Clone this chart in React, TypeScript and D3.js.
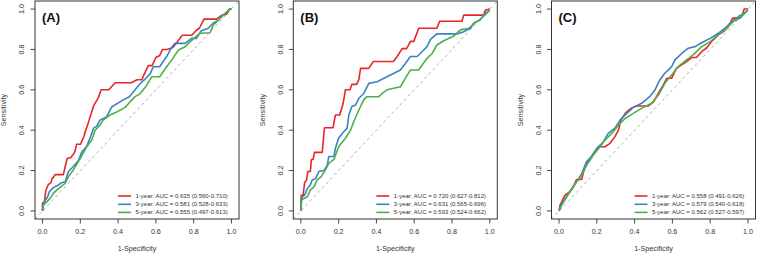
import React, { useEffect } from "react";
import * as d3 from "d3";

// ROC curves: [1-specificity, sensitivity] pairs for each cohort and horizon
const rocA1: [number, number][] = [
  [0, 0], [0, 0.04], [0.01, 0.045], [0.017, 0.1], [0.03, 0.13], [0.045, 0.14], [0.05, 0.16], [0.06, 0.17],
  [0.066, 0.18], [0.11, 0.18], [0.12, 0.22], [0.13, 0.26], [0.15, 0.265], [0.17, 0.29], [0.18, 0.33],
  [0.2, 0.33], [0.22, 0.37], [0.225, 0.39], [0.24, 0.43], [0.25, 0.46], [0.27, 0.52], [0.295, 0.56],
  [0.31, 0.6], [0.35, 0.6], [0.385, 0.635], [0.47, 0.635], [0.5, 0.65], [0.525, 0.65], [0.535, 0.67],
  [0.56, 0.72], [0.58, 0.72], [0.6, 0.76], [0.62, 0.77], [0.635, 0.8], [0.66, 0.8], [0.69, 0.81],
  [0.74, 0.87], [0.79, 0.87], [0.815, 0.895], [0.83, 0.905], [0.855, 0.95], [0.92, 0.95], [0.95, 0.97],
  [0.975, 0.975], [0.99, 1], [1, 1],
];
const rocA3: [number, number][] = [
  [0, 0], [0, 0.02], [0.013, 0.05], [0.027, 0.07], [0.036, 0.095], [0.05, 0.11], [0.066, 0.12],
  [0.084, 0.128], [0.1, 0.14], [0.12, 0.145], [0.137, 0.195], [0.163, 0.22], [0.19, 0.25], [0.207, 0.29],
  [0.234, 0.32], [0.255, 0.37], [0.27, 0.41], [0.287, 0.42], [0.304, 0.45], [0.34, 0.467], [0.366, 0.515],
  [0.427, 0.55], [0.46, 0.566], [0.49, 0.6], [0.516, 0.63], [0.54, 0.65], [0.57, 0.68], [0.586, 0.714],
  [0.62, 0.714], [0.657, 0.765], [0.683, 0.81], [0.7, 0.83], [0.754, 0.83], [0.79, 0.855], [0.815, 0.855],
  [0.84, 0.893], [0.877, 0.905], [0.903, 0.93], [0.93, 0.945], [0.95, 0.965], [0.975, 0.982], [0.99, 1], [1, 1],
];
const rocA5: [number, number][] = [
  [0, 0], [0.005, 0.03], [0.022, 0.045], [0.04, 0.062], [0.057, 0.087], [0.075, 0.103], [0.093, 0.117],
  [0.12, 0.137], [0.137, 0.17], [0.163, 0.203], [0.2, 0.26], [0.234, 0.318], [0.26, 0.35], [0.278, 0.4],
  [0.304, 0.425], [0.32, 0.45], [0.357, 0.475], [0.393, 0.49], [0.437, 0.513], [0.463, 0.54], [0.49, 0.566],
  [0.516, 0.58], [0.55, 0.62], [0.578, 0.665], [0.62, 0.665], [0.657, 0.714], [0.683, 0.747], [0.72, 0.797],
  [0.754, 0.813], [0.8, 0.855], [0.834, 0.88], [0.887, 0.883], [0.903, 0.92], [0.93, 0.945], [0.957, 0.97],
  [0.99, 1], [1, 1],
];
const rocB1: [number, number][] = [
  [0, 0], [0, 0.035], [0.002, 0.078], [0.012, 0.078], [0.02, 0.14], [0.03, 0.153], [0.037, 0.195], [0.05, 0.195],
  [0.056, 0.255], [0.065, 0.255], [0.072, 0.29], [0.113, 0.29], [0.125, 0.412], [0.17, 0.412], [0.183, 0.475],
  [0.206, 0.475], [0.224, 0.533], [0.236, 0.6], [0.26, 0.6], [0.27, 0.627], [0.295, 0.627], [0.307, 0.65],
  [0.316, 0.706], [0.36, 0.706], [0.383, 0.74], [0.49, 0.74], [0.51, 0.765], [0.536, 0.804], [0.56, 0.804],
  [0.58, 0.84], [0.598, 0.84], [0.624, 0.905], [0.72, 0.905], [0.735, 0.94], [0.853, 0.94], [0.862, 0.97],
  [0.968, 0.97], [0.977, 0.995], [1, 1],
];
const rocB3: [number, number][] = [
  [0, 0], [0, 0.035], [0.007, 0.07], [0.02, 0.078], [0.034, 0.11], [0.05, 0.128], [0.06, 0.153], [0.078, 0.16],
  [0.095, 0.195], [0.122, 0.2], [0.14, 0.227], [0.148, 0.27], [0.175, 0.27], [0.183, 0.31], [0.2, 0.36],
  [0.22, 0.385], [0.245, 0.41], [0.254, 0.475], [0.27, 0.517], [0.29, 0.525], [0.307, 0.558], [0.333, 0.582],
  [0.36, 0.632], [0.404, 0.64], [0.474, 0.673], [0.527, 0.698], [0.553, 0.73], [0.58, 0.765], [0.615, 0.765],
  [0.633, 0.78], [0.65, 0.797], [0.668, 0.814], [0.686, 0.85], [0.72, 0.877], [0.827, 0.877], [0.862, 0.888],
  [0.898, 0.905], [0.915, 0.93], [0.95, 0.947], [0.977, 0.98], [1, 0.995],
];
const rocB5: [number, number][] = [
  [0, 0], [0.004, 0.053], [0.016, 0.062], [0.034, 0.07], [0.05, 0.103], [0.07, 0.12], [0.086, 0.153],
  [0.108, 0.17], [0.13, 0.203], [0.148, 0.236], [0.175, 0.255], [0.2, 0.318], [0.236, 0.36], [0.263, 0.4],
  [0.28, 0.442], [0.307, 0.5], [0.333, 0.55], [0.35, 0.566], [0.413, 0.566], [0.43, 0.582], [0.457, 0.6],
  [0.527, 0.615], [0.553, 0.657], [0.58, 0.698], [0.624, 0.698], [0.642, 0.723], [0.668, 0.756],
  [0.695, 0.78], [0.72, 0.822], [0.757, 0.843], [0.81, 0.867], [0.845, 0.897], [0.889, 0.905],
  [0.915, 0.927], [0.95, 0.95], [0.977, 0.972], [1, 0.995],
];
const rocC1: [number, number][] = [
  [0, 0], [0.005, 0.028], [0.018, 0.054], [0.032, 0.078], [0.058, 0.095], [0.076, 0.12], [0.093, 0.156],
  [0.12, 0.156], [0.134, 0.21], [0.155, 0.244], [0.182, 0.285], [0.208, 0.318], [0.243, 0.318], [0.27, 0.335],
  [0.296, 0.368], [0.314, 0.4], [0.328, 0.45], [0.35, 0.483], [0.38, 0.508], [0.41, 0.52], [0.473, 0.52],
  [0.5, 0.54], [0.526, 0.583], [0.552, 0.624], [0.57, 0.657], [0.596, 0.657], [0.622, 0.707], [0.649, 0.724],
  [0.675, 0.74], [0.702, 0.76], [0.728, 0.76], [0.755, 0.79], [0.78, 0.806], [0.808, 0.84], [0.843, 0.872],
  [0.87, 0.888], [0.896, 0.913], [0.919, 0.955], [0.958, 0.955], [0.97, 0.97], [0.98, 1], [1, 1],
];
const rocC3: [number, number][] = [
  [0, 0], [0.014, 0.037], [0.04, 0.07], [0.067, 0.11], [0.093, 0.144], [0.12, 0.185], [0.146, 0.244],
  [0.173, 0.27], [0.2, 0.31], [0.235, 0.343], [0.26, 0.384], [0.296, 0.41], [0.323, 0.45], [0.358, 0.483],
  [0.393, 0.513], [0.437, 0.533], [0.48, 0.566], [0.508, 0.6], [0.534, 0.65], [0.56, 0.682], [0.596, 0.715],
  [0.614, 0.748], [0.649, 0.78], [0.684, 0.806], [0.72, 0.814], [0.755, 0.833], [0.8, 0.855], [0.843, 0.88],
  [0.878, 0.905], [0.914, 0.938], [0.95, 0.963], [0.975, 0.976], [1, 0.995],
];
const rocC5: [number, number][] = [
  [0, 0], [0.014, 0.028], [0.04, 0.07], [0.067, 0.11], [0.093, 0.144], [0.12, 0.177], [0.146, 0.227],
  [0.182, 0.277], [0.217, 0.318], [0.243, 0.351], [0.279, 0.384], [0.314, 0.425], [0.35, 0.458],
  [0.393, 0.483], [0.437, 0.508], [0.49, 0.533], [0.526, 0.574], [0.56, 0.632], [0.596, 0.674],
  [0.631, 0.715], [0.675, 0.748], [0.71, 0.773], [0.755, 0.814], [0.8, 0.839], [0.843, 0.872],
  [0.887, 0.905], [0.922, 0.938], [0.958, 0.955], [0.984, 0.98], [1, 0.995],
];

const panelLabels = ["(A)", "(B)", "(C)"];
const horizonNames = ["1-year", "3-year", "5-year"];
const aucA = ["0.635 (0.560-0.710)", "0.581 (0.528-0.633)", "0.555 (0.497-0.613)"];
const aucB = ["0.720 (0.627-0.812)", "0.631 (0.565-0.696)", "0.593 (0.524-0.662)"];
const aucC = ["0.558 (0.491-0.626)", "0.579 (0.540-0.618)", "0.562 (0.527-0.597)"];
const tickValues = [0, 0.2, 0.4, 0.6, 0.8, 1.0];

const panels = [
  { label: panelLabels[0], curves: [rocA1, rocA3, rocA5], auc: aucA },
  { label: panelLabels[1], curves: [rocB1, rocB3, rocB5], auc: aucB },
  { label: panelLabels[2], curves: [rocC1, rocC3, rocC5], auc: aucC },
];

const colors = ["#E8262A", "#3A82C4", "#4DAF4A"];
const FONT = "'Liberation Sans', Arial, Helvetica, sans-serif";
const W = 757;
const H = 255;
const boxLefts = [35, 293.3, 551.5];
const boxTop = 1;
const boxW = 204;
const boxH = 218;

function RocPanel({ idx }: { idx: number }) {
  const p = panels[idx];
  const left = boxLefts[idx];
  const x = d3.scaleLinear().domain([-0.04, 1.04]).range([left, left + boxW]);
  const y = d3.scaleLinear().domain([-0.04, 1.04]).range([boxTop + boxH, boxTop]);
  const line = d3
    .line<[number, number]>()
    .x((d) => x(d[0]))
    .y((d) => y(d[1]))
    .curve(d3.curveLinear);
  const bottom = boxTop + boxH;
  const legendRows = [196, 204.3, 212.4];

  return (
    <g>
      {/* chance diagonal */}
      <line
        x1={x(-0.04)}
        y1={y(-0.04)}
        x2={x(1.04)}
        y2={y(1.04)}
        stroke="#A8A8A8"
        strokeWidth={0.9}
        strokeDasharray="3,3"
      />
      {p.curves.map((c, i) => (
        <path
          key={i}
          d={line(c) || ""}
          fill="none"
          stroke={colors[i]}
          strokeWidth={1.6}
          strokeLinejoin="round"
        />
      ))}
      <rect x={left} y={boxTop} width={boxW} height={boxH} fill="none" stroke="#333" strokeWidth={1} />

      {/* x axis */}
      {tickValues.map((t) => (
        <g key={"x" + t}>
          <line x1={x(t)} x2={x(t)} y1={bottom} y2={bottom + 4.5} stroke="#333" strokeWidth={0.9} />
          <text x={x(t)} y={bottom + 15} textAnchor="middle" fontSize={7.2} fill="#333" fontFamily={FONT}>
            {t.toFixed(1)}
          </text>
        </g>
      ))}
      {/* y axis */}
      {tickValues.map((t) => (
        <g key={"y" + t}>
          <line x1={left - 4.5} x2={left} y1={y(t)} y2={y(t)} stroke="#333" strokeWidth={0.9} />
          <text
            transform={`translate(${left - 10.6},${y(t)}) rotate(-90)`}
            textAnchor="middle"
            fontSize={7.2}
            fill="#333"
            fontFamily={FONT}
          >
            {t.toFixed(1)}
          </text>
        </g>
      ))}
      <text x={x(0.5)} y={251} textAnchor="middle" fontSize={7.2} fill="#333" fontFamily={FONT}>
        1-Specificity
      </text>
      <text
        transform={`translate(${left - 28.6},${y(0.5)}) rotate(-90)`}
        textAnchor="middle"
        fontSize={7.2}
        fill="#333"
        fontFamily={FONT}
      >
        Sensitivity
      </text>

      <text x={left + 7} y={22} fontSize={13} fontWeight="bold" fill="#111" fontFamily={FONT}>
        {p.label}
      </text>

      {/* legend */}
      {horizonNames.map((n, i) => (
        <g key={"lg" + i}>
          <line
            x1={left + 83}
            x2={left + 96}
            y1={legendRows[i]}
            y2={legendRows[i]}
            stroke={colors[i]}
            strokeWidth={1.6}
          />
          <text
            x={left + 100.5}
            y={legendRows[i]}
            dominantBaseline="central"
            fontSize={6}
            fill="#333"
            fontFamily={FONT}
          >
            {`${n}: AUC = ${p.auc[i]}`}
          </text>
        </g>
      ))}
    </g>
  );
}

export default function App() {
  useEffect(() => {
    document.body.style.margin = "0";
  }, []);
  return (
    <svg
      width={W}
      height={H}
      viewBox={`0 0 ${W} ${H}`}
      style={{ position: "absolute", left: 0, top: 0, background: "#fff" }}
    >
      <rect width={W} height={H} fill="#fff" />
      {panels.map((_, i) => (
        <RocPanel key={i} idx={i} />
      ))}
    </svg>
  );
}
